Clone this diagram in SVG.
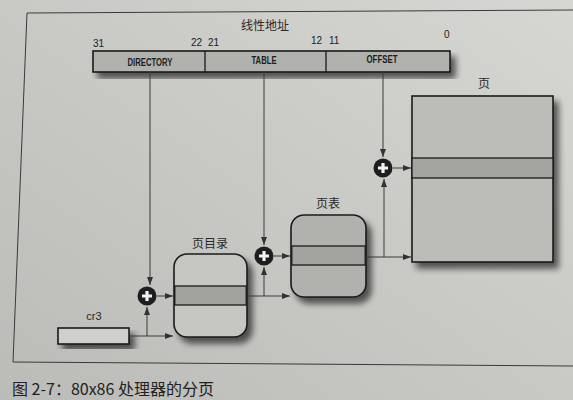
<svg xmlns="http://www.w3.org/2000/svg" width="573" height="400" viewBox="0 0 573 400">
<defs>
<linearGradient id="bg" x1="0" y1="1" x2="1" y2="0">
<stop offset="0" stop-color="#bbbbb7"/>
<stop offset="0.6" stop-color="#cbcbc7"/>
<stop offset="1" stop-color="#d6d6d2"/>
</linearGradient>
<filter id="sh" x="-20%" y="-20%" width="150%" height="150%">
<feGaussianBlur in="SourceAlpha" stdDeviation="3"/>
<feOffset dx="5" dy="6" result="b"/>
<feComponentTransfer><feFuncA type="linear" slope="0.6"/></feComponentTransfer>
<feMerge><feMergeNode/><feMergeNode in="SourceGraphic"/></feMerge>
</filter>
<marker id="ar" viewBox="0 0 8 6" refX="8" refY="3" markerWidth="8" markerHeight="6" markerUnits="userSpaceOnUse" orient="auto">
<path d="M0,0 L8,3 L0,6 Z" fill="#333"/>
</marker>
<g id="plus">
<circle r="9.5" fill="#1e1e1e"/>
<path d="M-5,0 H5 M0,-5 V5" stroke="#f2f2f2" stroke-width="3.2"/>
</g>
</defs>
<style>
.ln{fill:none;stroke:#3a3a3a;stroke-width:1}
.bx{stroke:#1a1a1a;stroke-width:1.6}
.lbl{font-family:"Noto Sans CJK SC","Noto Sans",sans-serif;font-size:12px;fill:#2a2a2a}
.num{font-family:"Liberation Sans",sans-serif;font-size:10px;fill:#222}
.fld{font-family:"Liberation Sans",sans-serif;font-size:10px;font-weight:bold;fill:#1e1e1e;text-anchor:middle}
</style>
<rect width="573" height="400" fill="url(#bg)"/>
<path class="ln" d="M573,10 L27,13 L13,362 L573,366" stroke="#444"/>

<g id="address">
<text class="lbl" x="265" y="30" text-anchor="middle">线性地址</text>
<g filter="url(#sh)">
<rect class="bx" x="93" y="51" width="357" height="21" fill="#b1b1ad"/>
</g>
<path d="M205,51 V72 M326,51 V72" stroke="#1a1a1a" stroke-width="1.3"/>
<text class="fld" x="150" y="66" textLength="45" lengthAdjust="spacingAndGlyphs">DIRECTORY</text>
<text class="fld" x="264" y="64" textLength="25" lengthAdjust="spacingAndGlyphs">TABLE</text>
<text class="fld" x="382" y="63" textLength="31" lengthAdjust="spacingAndGlyphs">OFFSET</text>
<text class="num" x="93" y="47">31</text>
<text class="num" x="191" y="46">22</text>
<text class="num" x="208" y="46">21</text>
<text class="num" x="311" y="44">12</text>
<text class="num" x="329" y="44">11</text>
<text class="num" x="444" y="38">0</text>
</g>

<g id="cr3">
<text x="94" y="320" text-anchor="middle" font-family="Liberation Sans,sans-serif" font-size="11" fill="#2a2a2a">cr3</text>
<rect class="bx" x="58" y="328" width="71" height="16" fill="#cfcfcb" filter="url(#sh)"/>
</g>

<g id="page-directory">
<text class="lbl" x="210" y="248" text-anchor="middle">页目录</text>
<g filter="url(#sh)">
<rect class="bx" x="174" y="254" width="73" height="83" rx="13" fill="#c6c6c2"/>
</g>
<rect x="174.8" y="286" width="71.4" height="19" fill="#a2a29e" stroke="#1a1a1a" stroke-width="1.3"/>
</g>

<g id="page-table">
<text class="lbl" x="328" y="208" text-anchor="middle">页表</text>
<g filter="url(#sh)">
<rect class="bx" x="291" y="215" width="75" height="82" rx="13" fill="#b1b1ad"/>
</g>
<rect x="291.8" y="246" width="73.4" height="19" fill="#a3a39f" stroke="#1a1a1a" stroke-width="1.3"/>
</g>

<g id="page">
<text class="lbl" x="484" y="88" text-anchor="middle">页</text>
<g filter="url(#sh)">
<rect class="bx" x="412" y="96" width="141" height="166" fill="#bcbcb8"/>
</g>
<rect x="412" y="158" width="141" height="20" fill="#a4a4a0" stroke="#1a1a1a" stroke-width="1.3"/>
</g>

<g id="adders">
<use href="#plus" x="147" y="296"/>
<use href="#plus" x="264" y="256"/>
<use href="#plus" x="383" y="168"/>
</g>

<g id="connectors">
<path class="ln" d="M150,72 V285" marker-end="url(#ar)"/>
<path class="ln" d="M264,72 V245" marker-end="url(#ar)"/>
<path class="ln" d="M383,72 V157" marker-end="url(#ar)"/>
<path class="ln" d="M129,336 H173" marker-end="url(#ar)"/>
<path class="ln" d="M147,336 V307" marker-end="url(#ar)"/>
<path class="ln" d="M157,296 H173" marker-end="url(#ar)"/>
<path class="ln" d="M247,296 H290" marker-end="url(#ar)"/>
<path class="ln" d="M264,296 V267" marker-end="url(#ar)"/>
<path class="ln" d="M274,256 H290" marker-end="url(#ar)"/>
<path class="ln" d="M366,257 H411" marker-end="url(#ar)"/>
<path class="ln" d="M384,257 V179" marker-end="url(#ar)"/>
<path class="ln" d="M393,168 H411" marker-end="url(#ar)"/>
</g>

<text x="12" y="395" font-family="Noto Sans CJK SC,Noto Sans,sans-serif" font-size="16" fill="#222">图 2-7：80x86 处理器的分页</text>
</svg>
